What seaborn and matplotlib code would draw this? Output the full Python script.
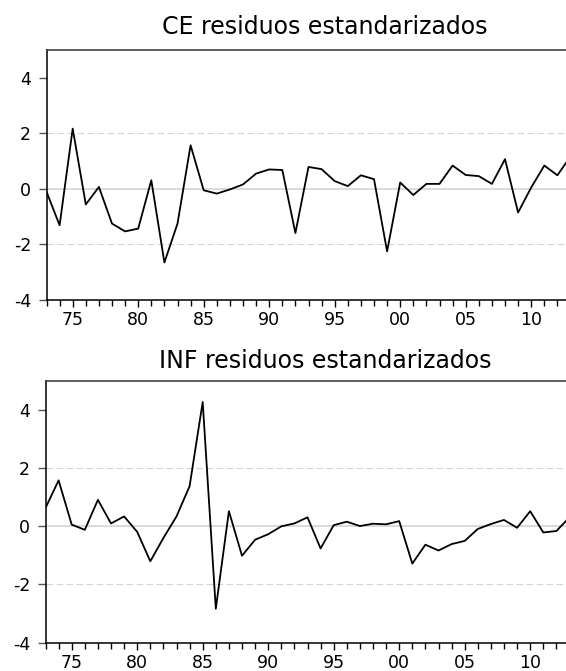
import matplotlib
matplotlib.use("Agg")
import matplotlib.pyplot as plt
import seaborn as sns
import pandas as pd
from matplotlib.ticker import FixedLocator, MultipleLocator

years = list(range(1973, 2014))
ce_resid = [-0.10, -1.31, 2.17, -0.56, 0.07, -1.25, -1.53, -1.43, 0.31, -2.65,
            -1.25, 1.57, -0.05, -0.17, -0.02, 0.16, 0.55, 0.70, 0.68, -1.59,
            0.79, 0.71, 0.28, 0.10, 0.49, 0.35, -2.25, 0.23, -0.22, 0.18,
            0.18, 0.84, 0.50, 0.46, 0.18, 1.07, -0.85, 0.05, 0.84, 0.49, 1.17]
inf_resid = [0.62, 1.57, 0.05, -0.13, 0.90, 0.09, 0.33, -0.20, -1.21, -0.41,
             0.33, 1.37, 4.26, -2.84, 0.51, -1.02, -0.47, -0.28, -0.01, 0.09,
             0.30, -0.77, 0.03, 0.15, 0.00, 0.08, 0.06, 0.17, -1.29, -0.64,
             -0.84, -0.62, -0.51, -0.10, 0.07, 0.21, -0.06, 0.51, -0.22, -0.17, 0.30]
xtick_years = [1975, 1980, 1985, 1990, 1995, 2000, 2005, 2010]
xtick_labels = ["75", "80", "85", "90", "95", "00", "05", "10"]
yticks = [-4, -2, 0, 2, 4]
titles = ["CE residuos estandarizados", "INF residuos estandarizados"]

df = pd.DataFrame({"year": years, "CE": ce_resid, "INF": inf_resid})

sns.set_style("white")
plt.rcParams["font.family"] = ["DejaVu Sans"]
plt.rcParams["text.color"] = "black"
plt.rcParams["xtick.labelcolor"] = "black"
plt.rcParams["ytick.labelcolor"] = "black"

W, H = 566, 671
fig = plt.figure(figsize=(W / 100, H / 100), dpi=100)

# axes boxes in pixels: left, top, bottom
boxes = [(46.5, 50, 300), (45.5, 380.5, 642.5)]
title_base = [34, 368]
series = ["CE", "INF"]

for (left, top, bottom), col, title, tb in zip(boxes, series, titles, title_base):
    ax = fig.add_axes([left / W, 1 - bottom / H, (W - left) / W, (bottom - top) / H])
    # reference lines
    ax.axhline(0, color="#d4d4d4", lw=1.2, zorder=1)
    for yv in (-2, 2):
        ax.axhline(yv, color="#d4d4d4", lw=0.8, ls=(0, (6, 3)), zorder=1)
    sns.lineplot(data=df, x="year", y=col, ax=ax, color="black", lw=1.3, zorder=3)
    ax.set_xlim(1973, 1973 + (W - left) / 13.1)
    ax.set_ylim(-4, 5)
    ax.set_xlabel("")
    ax.set_ylabel("")
    ax.xaxis.set_major_locator(FixedLocator(xtick_years))
    ax.set_xticklabels(xtick_labels)
    ax.xaxis.set_minor_locator(MultipleLocator(1))
    ax.set_yticks(yticks)
    ax.set_yticklabels([str(v) for v in yticks])
    ax.tick_params(axis="x", which="major", direction="out", length=5, width=1,
                   color="black", labelsize=12.5, labelcolor="black", pad=3, bottom=True)
    ax.tick_params(axis="x", which="minor", direction="out", length=4, width=1,
                   color="black", bottom=True)
    ax.tick_params(axis="y", which="major", direction="out", length=6, width=1,
                   color="#555555", labelsize=12.5, labelcolor="black", pad=5, left=True)
    for s in ("left", "bottom", "top"):
        ax.spines[s].set_visible(True)
        ax.spines[s].set_color("black")
        ax.spines[s].set_linewidth(1.1)
    ax.spines["top"].set_color("#333333")
    ax.spines["right"].set_visible(False)
    fig.text(325 / W, 1 - tb / H, title, ha="center", va="baseline",
             fontsize=17, color="black")

fig.savefig("out.png", dpi=100)
